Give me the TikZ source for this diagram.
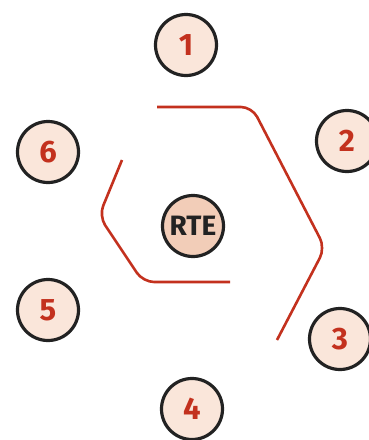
\documentclass[tikz,border=0pt]{standalone}
\usepackage{fontspec}
\setmainfont{Fira Sans}
\usepackage{xcolor}
\definecolor{ringred}{HTML}{C3311E}
\definecolor{ringink}{HTML}{222222}
\definecolor{ringfill}{HTML}{FAE6DA}
\definecolor{hubfill}{HTML}{F2CDB8}
\usepackage{tikz}
\usetikzlibrary{
  positioning,
  calc,
}

\begin{document}
\begin{tikzpicture}[
  x=1pt,
  y=-1pt,
  station/.style={
    circle,
    draw=ringink,
    line width=3.2pt,
    fill=ringfill,
    minimum size=61pt,
    inner sep=0pt,
    text=ringred,
    font=\fontsize{31}{31}\selectfont\bfseries,
  },
  hub/.style={
    station,
    fill=hubfill,
    text=ringink,
    font=\fontsize{28}{28}\selectfont\bfseries,
  },
  track/.style={
    draw=ringred,
    line width=2.6pt,
    rounded corners=11pt,
  },
]

\useasboundingbox (0,0) rectangle (368,440);

% =============================================================================
% Outer ring of stations
% =============================================================================
\node[station] (s1) at (186,45) {1};
\node[station] (s2) at (347,141) {2};
\node[station] (s3) at (340,339) {3};
\node[station] (s4) at (192,409) {4};
\node[station] (s5) at (48,310) {5};
\node[station] (s6) at (48,152) {6};

% =============================================================================
% Centre
% =============================================================================
\node[hub] (rte) at (193,226) {RTE};

% =============================================================================
% Red tracks
% =============================================================================
\coordinate (ta) at (157,107);
\coordinate (tb) at (277,340);
\coordinate (tc) at (122,160);
\coordinate (td) at (230,282);

\draw[track] (ta) -- (252,107) -- (325,248) -- (tb);
\draw[track] (tc) -- (99,216) -- (143,282) -- (td);

\end{tikzpicture}
\end{document}
